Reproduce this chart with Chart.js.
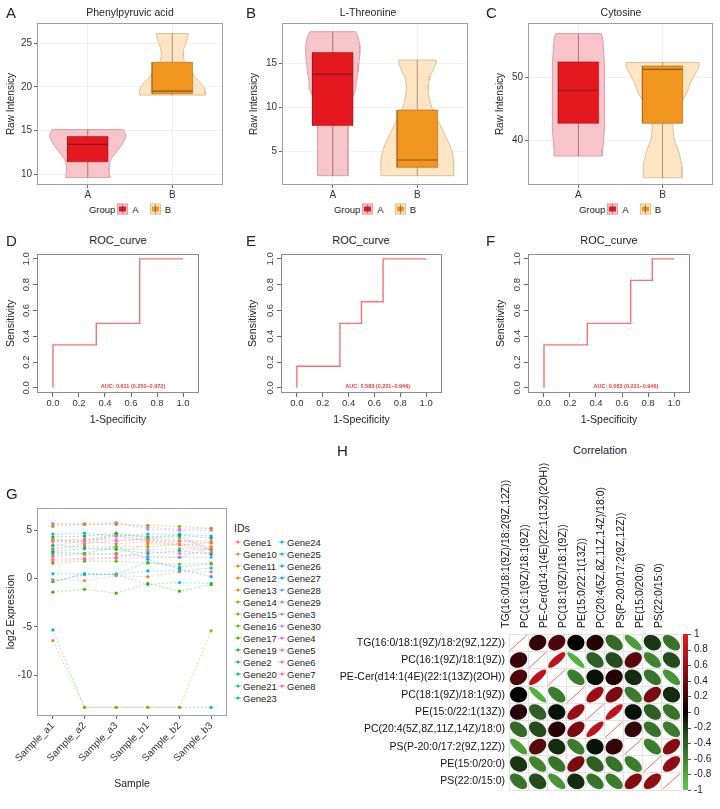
<!DOCTYPE html>
<html>
<head>
<meta charset="utf-8">
<script src="https://cdn.jsdelivr.net/npm/chart.js@4.4.0/dist/chart.umd.min.js"></script>
<style>
  body { margin: 0; background: #fff; font-family: "Liberation Sans", Arial, sans-serif; color: #222; }
  #fig { position: relative; width: 720px; height: 809px; overflow: hidden; }
  canvas { position: absolute; }
  .txt { position: absolute; white-space: nowrap; transform: translate(-50%, -50%); }
  .let { position: absolute; font-size: 15px; transform: translate(0, -50%); }
  .gleg { position: absolute; transform: translate(-50%, -50%); font-size: 9.5px; display: flex; align-items: center; white-space: nowrap; }
  .key { position: relative; display: inline-block; width: 11px; height: 11px; border: 1px solid; box-sizing: border-box; margin: 0 4px 0 2px; }
  .key b { position: absolute; left: 1px; right: 1px; top: 2px; bottom: 2px; }
  .key i { position: absolute; left: 4px; top: 0; bottom: 0; width: 1px; background: rgba(90, 60, 60, .55); }
  .gap { display: inline-block; width: 9px; }
  .ids { position: absolute; font-size: 9.5px; white-space: nowrap; }
  .ids span { position: absolute; transform: translate(0, -50%); }
  .ids em { position: absolute; width: 7px; height: 0; border-top: 1px dotted; transform: translate(-50%, -50%); }
  .ids em::after { content: ""; position: absolute; left: 2px; top: -2.5px; width: 3px; height: 3px; border-radius: 50%; background: currentColor; }
</style>
</head>
<body>
<div id="fig"></div>
<script>
// ---------- data ----------
const GROUPS = ['A', 'B'];

// A: Phenylpyruvic acid  (box = min, q1, median, q3, max)
const PHE_TICKS = [10, 15, 20, 25];
const PHE_BOX_A = [9.6, 11.4, 13.4, 14.3, 15.1];
const PHE_BOX_B = [19.05, 19.2, 19.5, 22.8, 26.1];
const PHE_VIO_Y_A = [15.1, 14.8, 14.3, 13.8, 13.3, 12.8, 12.3, 11.8, 11.3, 10.8, 10.3, 9.8, 9.6];
const PHE_VIO_W_A = [0.42, 0.44, 0.45, 0.43, 0.40, 0.36, 0.32, 0.28, 0.26, 0.25, 0.25, 0.26, 0.26];
const PHE_VIO_Y_B = [26.1, 25.6, 25, 24.5, 24, 23.5, 23, 22.5, 22, 21.5, 21, 20.5, 20, 19.5, 19.05];
const PHE_VIO_W_B = [0.19, 0.18, 0.16, 0.14, 0.13, 0.13, 0.14, 0.17, 0.2, 0.24, 0.28, 0.33, 0.37, 0.39, 0.39];

// B: L-Threonine
const THR_TICKS = [5, 10, 15];
const THR_BOX_A = [2.2, 7.9, 13.75, 16.2, 18.56];
const THR_BOX_B = [2.2, 3.15, 3.98, 9.66, 15.34];
const THR_VIO_Y_A = [18.56, 18, 17, 16, 15, 14, 13, 12, 11, 10, 9.5, 8, 6, 4, 2.2];
const THR_VIO_W_A = [0.27, 0.30, 0.32, 0.32, 0.31, 0.30, 0.28, 0.27, 0.23, 0.20, 0.19, 0.18, 0.18, 0.18, 0.18];
const THR_VIO_Y_B = [15.34, 15, 14.5, 14, 13.5, 13, 12.5, 12, 11, 10, 9, 8, 7, 6, 5, 4, 3, 2.2];
const THR_VIO_W_B = [0.22, 0.22, 0.2, 0.18, 0.15, 0.14, 0.13, 0.13, 0.14, 0.17, 0.21, 0.27, 0.32, 0.37, 0.41, 0.43, 0.43, 0.43];

// C: Cytosine
const CYT_TICKS = [40, 50];
const CYT_BOX_A = [37.46, 42.65, 47.9, 52.4, 56.9];
const CYT_BOX_B = [34.0, 42.65, 51.2, 51.75, 52.3];
const CYT_VIO_Y_A = [56.9, 56, 54, 52, 50, 48, 46, 44, 42, 40, 38.5, 37.46];
const CYT_VIO_W_A = [0.27, 0.29, 0.30, 0.31, 0.31, 0.31, 0.31, 0.31, 0.31, 0.30, 0.29, 0.28];
const CYT_VIO_Y_B = [52.3, 51.5, 50.5, 49, 47.5, 46.3, 45, 43.7, 42.1, 40, 37.9, 35.8, 34.0];
const CYT_VIO_W_B = [0.435, 0.43, 0.39, 0.33, 0.29, 0.24, 0.18, 0.14, 0.12, 0.14, 0.2, 0.23, 0.23];

// D-F: ROC curves
const ROC_TICKS = [0, 0.2, 0.4, 0.6, 0.8, 1.0];
const ROC_D_FPR = [0, 0, 0.333, 0.333, 0.667, 0.667, 1];
const ROC_D_TPR = [0, 0.333, 0.333, 0.5, 0.5, 1, 1];
const ROC_E_FPR = [0, 0, 0.333, 0.333, 0.5, 0.5, 0.667, 0.667, 1];
const ROC_E_TPR = [0, 0.167, 0.167, 0.5, 0.5, 0.667, 0.667, 1, 1];
const ROC_F_FPR = [0, 0, 0.333, 0.333, 0.667, 0.667, 0.833, 0.833, 1];
const ROC_F_TPR = [0, 0.333, 0.333, 0.5, 0.5, 0.833, 0.833, 1, 1];
const AUC_LABELS = ['AUC: 0.611 (0.250\u20130.972)', 'AUC: 0.583 (0.221\u20130.946)', 'AUC: 0.583 (0.221\u20130.946)'];

// G: expression lines
const SAMPLES = ['Sample_a1', 'Sample_a2', 'Sample_a3', 'Sample_b1', 'Sample_b2', 'Sample_b3'];
const EXPR_TICKS = [-10, -5, 0, 5];
const GENES = ['Gene1', 'Gene10', 'Gene11', 'Gene12', 'Gene13', 'Gene14', 'Gene15', 'Gene16', 'Gene17',
  'Gene19', 'Gene2', 'Gene20', 'Gene21', 'Gene23', 'Gene24', 'Gene25', 'Gene26', 'Gene27', 'Gene28',
  'Gene29', 'Gene3', 'Gene30', 'Gene4', 'Gene5', 'Gene6', 'Gene7', 'Gene8'];
const EXPR = [
  [3.8, 3.9, 4.4, 4.0, 3.6, 3.3],        // Gene1
  [-0.1, -0.2, 0.3, 0.2, 0.7, 0.7],      // Gene10
  [2.3, 2.5, 2.6, 3.6, 3.5, 3.7],        // Gene11
  [-6.4, -13.3, -13.3, -13.3, -13.3, -5.4], // Gene12
  [4.1, 3.9, 3.6, 3.8, 3.9, 3.7],        // Gene13
  [5.4, 5.6, 5.6, 5.5, 5.4, 5.2],        // Gene14
  [3.0, 3.4, 3.3, 3.3, 3.5, 3.0],        // Gene15
  [1.6, 1.8, 1.8, 1.6, 1.5, 1.6],        // Gene16
  [-1.4, -1.1, -1.5, -0.5, -1.3, -0.6],  // Gene17
  [4.3, 4.4, 4.7, 4.3, 4.5, 4.2],        // Gene19
  [2.8, 3.1, 3.0, 2.6, 2.9, 2.5],        // Gene2
  [3.4, 3.9, 4.6, 4.2, 4.4, 3.0],        // Gene20
  [-5.3, -13.3, -13.3, -13.3, -13.3, -13.3], // Gene21
  [-0.3, 0.5, 0.4, -0.6, -0.4, -0.5],    // Gene23
  [0.5, 0.5, 0.4, 0.8, 0.8, 1.1],        // Gene24
  [-0.3, 0.4, 0.5, 1.7, 1.2, 1.5],       // Gene25
  [4.6, 4.7, 4.4, 4.6, 4.6, 4.4],        // Gene26
  [2.7, 2.6, 3.3, 2.0, 1.0, 0.2],        // Gene27
  [2.5, 2.6, 2.5, 2.3, 2.2, 2.2],        // Gene28
  [3.5, 3.2, 3.1, 3.0, 3.1, 3.0],        // Gene29
  [5.6, 5.7, 5.8, 5.1, 5.0, 5.0],        // Gene3
  [5.7, 5.6, 5.7, 5.3, 5.1, 5.2],        // Gene30
  [3.9, 4.1, 4.0, 4.0, 4.2, 2.9],        // Gene4
  [3.1, 3.6, 3.9, 4.1, 3.9, 3.9],        // Gene5
  [2.0, 2.1, 2.2, 2.8, 2.6, 2.7],        // Gene6
  [4.0, 3.6, 4.5, 3.8, 3.5, 2.6],        // Gene7
  [1.8, 2.0, 2.1, 2.2, 2.2, 3.2]         // Gene8
];

// H: correlation matrix
const LIPIDS = ['TG(16:0/18:1(9Z)/18:2(9Z,12Z))', 'PC(16:1(9Z)/18:1(9Z))', 'PE-Cer(d14:1(4E)(22:1(13Z)(2OH))',
  'PC(18:1(9Z)/18:1(9Z))', 'PE(15:0/22:1(13Z))', 'PC(20:4(5Z,8Z,11Z,14Z)/18:0)', 'PS(P-20:0/17:2(9Z,12Z))',
  'PE(15:0/20:0)', 'PS(22:0/15:0)'];
const CORR = [
  [1, 0.15, 0.25, 0.0, 0.1, -0.45, -0.75, -0.2, -0.5],
  [0.15, 1, 0.8, -0.85, -0.4, -0.3, 0.3, -0.6, -0.3],
  [0.25, 0.8, 1, -0.55, -0.05, 0.1, -0.15, -0.5, -0.7],
  [0.0, -0.85, -0.55, 1, 0.6, 0.45, -0.55, 0.45, -0.15],
  [0.1, -0.4, -0.05, 0.6, 1, 0.8, -0.05, -0.4, -0.5],
  [-0.45, -0.3, 0.1, 0.45, 0.8, 1, 0.15, -0.5, -0.55],
  [-0.75, 0.3, -0.15, -0.55, -0.05, 0.15, 1, -0.55, 0.5],
  [-0.2, -0.6, -0.5, 0.45, -0.4, -0.5, -0.55, 1, 0.55],
  [-0.5, -0.3, -0.7, -0.15, -0.5, -0.55, 0.5, 0.55, 1]
];
const CB_TICKS = [1, 0.8, 0.6, 0.4, 0.2, 0, -0.2, -0.4, -0.6, -0.8, -1];

// ---------- styles ----------
const FONT = '"Liberation Sans", Arial, sans-serif';
Chart.defaults.font.family = FONT;
Chart.defaults.color = '#333';

const PAL = [
  { vFill: '#f7c5c9', vLine: '#dba0a6', box: '#e5171f', boxLine: 'rgba(140,20,20,0.5)', med: '#8a1c1c', whisk: 'rgba(110,70,70,0.6)' },
  { vFill: '#fde4c3', vLine: '#dcc299', box: '#f0951d', boxLine: 'rgba(150,90,20,0.5)', med: '#8a5a17', whisk: 'rgba(120,95,70,0.6)' }
];
const BOX_HALF = 0.24;
const CORR_RED = [232, 22, 30];
const CORR_GREEN = [95, 200, 72];

const fig = document.getElementById('fig');

function makeCanvas(left, top, w, h) {
  const c = document.createElement('canvas');
  c.width = w; c.height = h;
  c.style.left = left + 'px'; c.style.top = top + 'px';
  c.style.width = w + 'px'; c.style.height = h + 'px';
  fig.appendChild(c);
  return c;
}

function text(str, x, y, size, cls) {
  const d = document.createElement('div');
  d.className = cls || 'txt';
  d.style.left = x + 'px'; d.style.top = y + 'px';
  if (size) d.style.fontSize = size + 'px';
  d.textContent = str;
  fig.appendChild(d);
}

// border around plot area
const framePlugin = {
  id: 'frame',
  afterDraw(chart, args, opts) {
    const a = chart.chartArea, ctx = chart.ctx;
    ctx.save();
    ctx.strokeStyle = opts.color || '#999';
    ctx.lineWidth = 1;
    ctx.strokeRect(Math.round(a.left) + 0.5, Math.round(a.top) + 0.5, Math.round(a.width) - 1, Math.round(a.height) - 1);
    ctx.restore();
  }
};

// small AUC annotation placed by data coordinates
const aucPlugin = {
  id: 'auc',
  afterDatasetsDraw(chart, args, opts) {
    const ctx = chart.ctx;
    ctx.save();
    ctx.fillStyle = '#e8403f';
    ctx.font = 'bold 5.5px ' + FONT;
    ctx.textAlign = 'center';
    ctx.textBaseline = 'middle';
    ctx.fillText(opts.text, chart.scales.x.getPixelForValue(opts.x), chart.scales.y.getPixelForValue(opts.y));
    ctx.restore();
  }
};

function setTicks(values) {
  return s => { s.ticks = values.map(v => ({ value: v })); };
}

// ---------- violin + box panels ----------
function violinSets(center, ys, ws, box, col) {
  const right = ys.map((y, i) => ({ x: center + ws[i], y }));
  const left = ys.map((y, i) => ({ x: center - ws[i], y })).reverse();
  const outline = right.concat(left, [right[0]]);
  const x0 = center - BOX_HALF, x1 = center + BOX_HALF;
  return [
    { data: outline, showLine: true, fill: 'shape', backgroundColor: col.vFill, borderColor: col.vLine, borderWidth: 1, pointRadius: 0, order: 4 },
    { data: [{ x: center, y: box[0] }, { x: center, y: box[4] }], showLine: true, borderColor: col.whisk, borderWidth: 1, pointRadius: 0, order: 3 },
    { data: [{ x: x0, y: box[1] }, { x: x1, y: box[1] }, { x: x1, y: box[3] }, { x: x0, y: box[3] }, { x: x0, y: box[1] }],
      showLine: true, fill: 'shape', backgroundColor: col.box, borderColor: col.boxLine, borderWidth: 1, pointRadius: 0, order: 2 },
    { data: [{ x: x0, y: box[2] }, { x: x1, y: box[2] }], showLine: true, borderColor: col.med, borderWidth: 1.2, pointRadius: 0, order: 1 }
  ];
}

function violinChart(o) {
  const datasets = [];
  o.groups.forEach((g, gi) => datasets.push(...violinSets(gi + 1, g[0], g[1], g[2], PAL[gi])));
  new Chart(makeCanvas(o.left, 0, 240, 200), {
    type: 'scatter',
    data: { datasets },
    plugins: [framePlugin],
    options: {
      responsive: false, animation: false, events: [],
      layout: { padding: { top: 23, right: o.right, left: 0, bottom: 0 } },
      plugins: { legend: { display: false }, tooltip: { enabled: false }, frame: { color: '#a0a0a0' } },
      scales: {
        x: {
          type: 'linear', min: 0.4, max: 2.6,
          afterBuildTicks: setTicks(GROUPS.map((g, i) => i + 1)),
          afterFit: s => { s.height = 15; },
          ticks: { callback: v => GROUPS[v - 1], font: { size: 10 }, color: '#333', padding: 1 },
          grid: { color: '#f0f0f0', tickLength: 3, tickColor: '#666' },
          border: { display: false }
        },
        y: {
          min: o.yMin, max: o.yMax,
          afterBuildTicks: setTicks(o.ticks),
          afterFit: s => { s.width = o.axisW; },
          ticks: { font: { size: 10 }, color: '#333', padding: 2 },
          grid: { color: '#f0f0f0', tickLength: 3, tickColor: '#666' },
          border: { display: false },
          title: { display: true, text: 'Raw Intensicy', font: { size: 10 }, color: '#222', padding: { top: o.tpad, bottom: 0 } }
        }
      }
    }
  });
  text(o.title, o.titleX, 12, 10.5);
  groupLegend(o.legendX, 209);
}

function groupLegend(cx, cy) {
  const d = document.createElement('div');
  d.className = 'gleg';
  d.style.left = cx + 'px'; d.style.top = cy + 'px';
  d.innerHTML = 'Group' + GROUPS.map((g, i) =>
    `<span class="key" style="background:${PAL[i].vFill};border-color:${PAL[i].vLine}"><b style="background:${PAL[i].box}"></b><i></i></span>${g}`
  ).join('<span class="gap"></span>');
  fig.appendChild(d);
}

violinChart({ left: 0, axisW: 37, right: 17, yMin: 8.75, yMax: 27.3, ticks: PHE_TICKS, tpad: 5,
  title: 'Phenylpyruvic acid', titleX: 130, legendX: 130,
  groups: [[PHE_VIO_Y_A, PHE_VIO_W_A, PHE_BOX_A], [PHE_VIO_Y_B, PHE_VIO_W_B, PHE_BOX_B]] });
violinChart({ left: 240, axisW: 42, right: 12, yMin: 1.14, yMax: 19.55, ticks: THR_TICKS, tpad: 8,
  title: 'L-Threonine', titleX: 368, legendX: 375,
  groups: [[THR_VIO_Y_A, THR_VIO_W_A, THR_BOX_A], [THR_VIO_Y_B, THR_VIO_W_B, THR_BOX_B]] });
violinChart({ left: 480, axisW: 48, right: 7, yMin: 32.86, yMax: 58.57, ticks: CYT_TICKS, tpad: 14,
  title: 'Cytosine', titleX: 621, legendX: 620,
  groups: [[CYT_VIO_Y_A, CYT_VIO_W_A, CYT_BOX_A], [CYT_VIO_Y_B, CYT_VIO_W_B, CYT_BOX_B]] });

// ---------- ROC panels ----------
function rocChart(o) {
  new Chart(makeCanvas(o.left, 248, 240, 182), {
    type: 'scatter',
    data: { datasets: [{ data: o.fpr.map((x, i) => ({ x, y: o.tpr[i] })), showLine: true, borderColor: '#f07474', borderWidth: 1.4, pointRadius: 0 }] },
    plugins: [framePlugin, aucPlugin],
    options: {
      responsive: false, animation: false, events: [],
      layout: { padding: { top: 5, right: o.right, left: 0, bottom: 0 } },
      plugins: { legend: { display: false }, tooltip: { enabled: false }, frame: { color: '#8c8c8c' }, auc: { text: o.auc, x: o.aucX, y: 0.01 } },
      scales: {
        x: {
          type: 'linear', min: -0.123, max: 1.123,
          afterBuildTicks: setTicks(ROC_TICKS),
          afterFit: s => { s.height = 37; },
          ticks: { callback: v => v.toFixed(1), font: { size: 9.5 }, color: '#333', padding: 1 },
          grid: { drawOnChartArea: false, tickLength: 4, tickColor: '#666' },
          border: { display: false },
          title: { display: true, text: '1-Specificity', font: { size: 10.5 }, color: '#222', padding: { top: 0, bottom: 4 } }
        },
        y: {
          min: -0.04, max: 1.04,
          afterBuildTicks: setTicks(ROC_TICKS),
          afterFit: s => { s.width = o.axisW; },
          ticks: { callback: v => v.toFixed(1), font: { size: 9.5 }, color: '#333', padding: 0, minRotation: 90, maxRotation: 90, crossAlign: 'center' },
          grid: { drawOnChartArea: false, tickLength: 4, tickColor: '#666' },
          border: { display: false },
          title: { display: true, text: 'Sensitivity', font: { size: 10.5 }, color: '#222', padding: { top: o.tpad, bottom: 0 } }
        }
      }
    }
  });
  text('ROC_curve', o.titleX, 240, 11);
}

rocChart({ left: 0, axisW: 37, right: 41, tpad: 5, fpr: ROC_D_FPR, tpr: ROC_D_TPR, auc: AUC_LABELS[0], aucX: 0.615, titleX: 118 });
rocChart({ left: 240, axisW: 41, right: 38, tpad: 7, fpr: ROC_E_FPR, tpr: ROC_E_TPR, auc: AUC_LABELS[1], aucX: 0.625, titleX: 361 });
rocChart({ left: 480, axisW: 48, right: 30, tpad: 15, fpr: ROC_F_FPR, tpr: ROC_F_TPR, auc: AUC_LABELS[2], aucX: 0.63, titleX: 609 });

// ---------- G: expression profile ----------
// ggplot2 default hue palette (hcl, c = 100, l = 65)
function hueColor(h) {
  const L = 65, C = 100, hr = h * Math.PI / 180;
  const u = C * Math.cos(hr), v = C * Math.sin(hr);
  const Xn = 95.047, Yn = 100, Zn = 108.883;
  const den = Xn + 15 * Yn + 3 * Zn;
  const un = 4 * Xn / den, vn = 9 * Yn / den;
  const Y = Yn * Math.pow((L + 16) / 116, 3);
  const up = u / (13 * L) + un, vp = v / (13 * L) + vn;
  const X = Y * 9 * up / (4 * vp);
  const Z = Y * (12 - 3 * up - 20 * vp) / (4 * vp);
  const x = X / 100, y = Y / 100, z = Z / 100;
  const lin = [3.2406 * x - 1.5372 * y - 0.4986 * z, -0.9689 * x + 1.8758 * y + 0.0415 * z, 0.0557 * x - 0.2040 * y + 1.0570 * z];
  return lin.map(t => {
    const g = t <= 0.0031308 ? 12.92 * t : 1.055 * Math.pow(t, 1 / 2.4) - 0.055;
    return Math.round(255 * Math.min(1, Math.max(0, g)));
  });
}
const GENE_RGB = GENES.map((g, i) => hueColor(15 + i * 360 / GENES.length));
const rgb = (c, a) => `rgba(${c[0]},${c[1]},${c[2]},${a})`;

new Chart(makeCanvas(0, 495, 232, 299), {
  type: 'line',
  data: {
    labels: SAMPLES,
    datasets: GENES.map((g, i) => ({
      label: g, data: EXPR[i],
      borderColor: rgb(GENE_RGB[i], 0.5), borderWidth: 0.8, borderDash: [2, 2],
      pointRadius: 1.6, pointBorderWidth: 0, pointBackgroundColor: rgb(GENE_RGB[i], 1)
    }))
  },
  plugins: [framePlugin],
  options: {
    responsive: false, animation: false, events: [],
    layout: { padding: { top: 13, right: 5, left: 0, bottom: 0 } },
    plugins: { legend: { display: false }, tooltip: { enabled: false }, frame: { color: '#a0a0a0' } },
    scales: {
      x: {
        offset: true,
        afterFit: s => { s.height = 78; },
        ticks: { font: { size: 10 }, color: '#333', padding: 1, minRotation: 45, maxRotation: 45, autoSkip: false },
        grid: { drawOnChartArea: false, tickLength: 3, tickColor: '#666' },
        border: { display: false },
        title: { display: true, text: 'Sample', font: { size: 10.5 }, color: '#222', padding: { top: 0, bottom: 4 } }
      },
      y: {
        min: -14.2, max: 7.3,
        afterBuildTicks: setTicks(EXPR_TICKS),
        afterFit: s => { s.width = 37; },
        ticks: { font: { size: 10 }, color: '#333', padding: 2 },
        grid: { drawOnChartArea: false, tickLength: 3, tickColor: '#666' },
        border: { display: false },
        title: { display: true, text: 'log2 Expression', font: { size: 10.5 }, color: '#222', padding: { top: 5, bottom: 0 } }
      }
    }
  }
});

// legend for G (two columns, filled top to bottom)
(function () {
  const box = document.createElement('div');
  box.className = 'ids';
  box.style.left = '0px'; box.style.top = '0px';
  let html = '<span style="left:234px;top:528px;font-size:10.5px">IDs</span>';
  const perCol = Math.ceil(GENES.length / 2);
  GENES.forEach((g, i) => {
    const col = Math.floor(i / perCol), row = i % perCol;
    const kx = col ? 282 : 238, y = 542 + row * 12;
    html += `<em style="left:${kx}px;top:${y}px;color:${rgb(GENE_RGB[i], 1)}"></em>`;
    html += `<span style="left:${kx + 5}px;top:${y}px">${g}</span>`;
  });
  box.innerHTML = html;
  fig.appendChild(box);
})();

// ---------- H: correlation ellipses ----------
function corrColor(r) {
  const end = r >= 0 ? CORR_RED : CORR_GREEN;
  const t = Math.pow(Math.min(1, Math.abs(r)), 0.8);
  return `rgb(${end.map(c => Math.round(c * t)).join(',')})`;
}

const ellipsePlugin = {
  id: 'ellipses',
  afterDatasetsDraw(chart) {
    const ctx = chart.ctx, xs = chart.scales.x, ys = chart.scales.y;
    const cw = Math.abs(xs.getPixelForValue(1) - xs.getPixelForValue(0));
    const ch = Math.abs(ys.getPixelForValue(1) - ys.getPixelForValue(0));
    const pts = chart.data.datasets[0].data;
    chart.getDatasetMeta(0).data.forEach((el, k) => {
      const r = pts[k].r, a = Math.acos(Math.max(-1, Math.min(1, r)));
      ctx.save();
      ctx.beginPath();
      for (let s = 0; s <= 72; s++) {
        const t = s / 72 * 2 * Math.PI;
        const ex = Math.cos(t + a / 2) / 2 * cw * 0.9;
        const ey = Math.cos(t - a / 2) / 2 * ch * 0.9;
        if (s === 0) ctx.moveTo(el.x + ex, el.y - ey); else ctx.lineTo(el.x + ex, el.y - ey);
      }
      if (r >= 0.999) {
        ctx.strokeStyle = 'rgba(232,22,30,0.5)';
        ctx.lineWidth = 0.8;
        ctx.stroke();
      } else {
        ctx.fillStyle = corrColor(r);
        ctx.fill();
      }
      ctx.restore();
    });
  }
};

const colorbarPlugin = {
  id: 'colorbar',
  afterDraw(chart) {
    const cb = chart.scales.cb, a = chart.chartArea, ctx = chart.ctx;
    const x0 = cb.left + 2, w = 5;
    const grad = ctx.createLinearGradient(0, a.top, 0, a.bottom);
    for (let i = 0; i <= 20; i++) grad.addColorStop(i / 20, corrColor(1 - i / 10));
    ctx.save();
    ctx.fillStyle = grad;
    ctx.fillRect(x0, a.top, w, a.bottom - a.top);
    ctx.strokeStyle = '#555';
    ctx.lineWidth = 1;
    cb.ticks.forEach(t => {
      const y = Math.round(cb.getPixelForValue(t.value)) + 0.5;
      ctx.beginPath(); ctx.moveTo(x0 + w, y); ctx.lineTo(x0 + w + 3, y); ctx.stroke();
    });
    ctx.restore();
  }
};

// one point per cell, addressed by the category labels
const cells = [];
CORR.forEach((row, i) => row.forEach((r, j) => cells.push({ x: LIPIDS[j], y: LIPIDS[i], r })));

new Chart(makeCanvas(340, 458, 380, 351), {
  type: 'scatter',
  data: { datasets: [{ data: cells, pointRadius: 0 }] },
  plugins: [ellipsePlugin, colorbarPlugin],
  options: {
    responsive: false, animation: false, events: [],
    layout: { padding: { top: 0, right: 0, left: 0, bottom: 6 } },
    plugins: { legend: { display: false }, tooltip: { enabled: false } },
    scales: {
      x: {
        type: 'category', labels: LIPIDS, position: 'top', offset: true,
        afterFit: s => { s.height = 176; },
        ticks: { font: { size: 10.5 }, color: '#111', padding: 6, minRotation: 90, maxRotation: 90, autoSkip: false },
        grid: { offset: true, color: '#e2e2e2', drawTicks: false },
        border: { display: false }
      },
      y: {
        type: 'category', labels: LIPIDS, offset: true,
        afterFit: s => { s.width = 169; },
        ticks: { font: { size: 10.5 }, color: '#111', padding: 4, autoSkip: false },
        grid: { offset: true, color: '#e2e2e2', drawTicks: false },
        border: { display: false }
      },
      cb: {
        type: 'linear', position: 'right', min: -1, max: 1,
        afterBuildTicks: setTicks(CB_TICKS),
        afterFit: s => { s.width = 39; },
        ticks: { font: { size: 10 }, color: '#222', padding: 13, callback: v => String(v) },
        grid: { display: false, drawTicks: false },
        border: { display: false }
      }
    }
  }
});

// ---------- titles and panel letters ----------
text('Correlation', 600, 450, 11);
[['A', 6, 12], ['B', 246, 12], ['C', 486, 12], ['D', 6, 240], ['E', 246, 240], ['F', 486, 240], ['G', 6, 493], ['H', 337, 450]]
  .forEach(([s, x, y]) => text(s, x, y, 15, 'let'));
</script>
</body>
</html>
